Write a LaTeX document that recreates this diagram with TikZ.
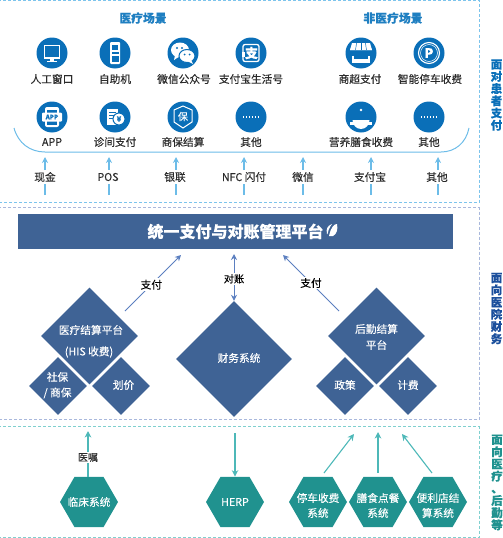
\documentclass[tikz,border=0pt]{standalone}
\usepackage{fontspec}
\setmainfont{Noto Sans CJK SC}[FakeBold=0.12]
\usetikzlibrary{shapes.geometric,arrows.meta}
\definecolor{iconblue}{HTML}{0A6FB8}
\definecolor{headblue}{HTML}{1F7FC1}
\definecolor{lightarrow}{HTML}{6CBCE8}
\definecolor{framea}{HTML}{7CC4EC}
\definecolor{frameb}{HTML}{A9B8DC}
\definecolor{framec}{HTML}{7FD0CF}
\definecolor{slate}{HTML}{3F6395}
\definecolor{teal2}{HTML}{20928F}
\definecolor{tealarrow}{HTML}{4DB8B8}
\definecolor{bluearrow}{HTML}{5B7FC0}
\definecolor{sideb}{HTML}{1B4F9C}
\definecolor{inktext}{HTML}{2B2B2B}
\newcommand\sidefont{\fontsize{11.5}{12.2}\bfseries\selectfont\setlength\lineskiplimit{-20pt}}
\tikzset{
  icon/.style={circle,fill=iconblue,minimum size=31pt,inner sep=0pt},
  lab/.style={font=\fontsize{10.7}{12}\selectfont,text=inktext,inner sep=0pt},
  head/.style={font=\fontsize{11.8}{13}\bfseries\selectfont,text=headblue,inner sep=0pt},
  frame/.style={densely dashed,line width=0.6pt},
  side/.style={font=\sidefont,align=center,inner sep=0pt},
  dia/.style={diamond,fill=slate,inner sep=0pt,aspect=1},
  ontext/.style={font=\fontsize{10.7}{12}\selectfont,text=white,inner sep=0pt,align=center},
  hexa/.style={regular polygon,regular polygon sides=6,fill=teal2,minimum size=58pt,inner sep=0pt},
  uparrow/.style={draw=lightarrow,line width=1.1pt,-{Stealth[length=6pt,width=6pt,inset=2pt]}},
  upline/.style={draw=lightarrow,line width=1.1pt},
  barrow/.style={draw=bluearrow,line width=1pt,-{Stealth[length=6pt,width=6pt,inset=2pt]}},
  tarrow/.style={draw=tealarrow,line width=1.1pt,-{Stealth[length=6.5pt,width=6.5pt,inset=2pt]}},
  wl/.style={draw=white,line width=0.9pt},
  bl/.style={draw=iconblue,line width=0.7pt},
}
\begin{document}
\begin{tikzpicture}[x=1pt,y=-1pt]
\useasboundingbox (0,0) rectangle (503,538);
% frames
\draw[frame,draw=framea] (-2,0.5) -- (479,0.5) -- (479,202) -- (-2,202);
\draw[frame,draw=frameb] (-2,207.5) -- (479,207.5) -- (479,419.5) -- (-2,419.5);
\draw[frame,draw=framec] (-2,426.5) -- (479,426.5) -- (479,537) -- (-2,537);
% headings
\node[head] (h1) at (143,18) {医疗场景};
\node[head] (h2) at (393,18) {非医疗场景};
% icons
\node[icon] (i1) at (52,53) {};
\node[icon] (i2) at (115,53) {};
\node[icon] (i3) at (183,53) {};
\node[icon] (i4) at (251,53) {};
\node[icon] (i5) at (361,53) {};
\node[icon] (i6) at (429,53) {};
\node[icon] (i7) at (52,117) {};
\node[icon] (i8) at (115,117) {};
\node[icon] (i9) at (183,117) {};
\node[icon] (i10) at (251,117) {};
\node[icon] (i11) at (361,117) {};
\node[icon] (i12) at (429,117) {};
% monitor
\begin{scope}[shift={(52,53)}]
\draw[wl,line width=1.2pt] (-7.5,-7.5) rectangle (7.5,5);
\fill[white] (-2,5) rectangle (2,8); \fill[white] (-5,8) rectangle (5,9);
\end{scope}
% kiosk
\begin{scope}[shift={(115,53)}]
\fill[white,rounded corners=1pt] (-5,-11) rectangle (5,11);
\fill[iconblue] (-3,-8) rectangle (3,-3);
\fill[iconblue] (-3.5,-1) rectangle (3.5,0.5);
\fill[iconblue] (-3.5,3) rectangle (3.5,9);
\end{scope}
% wechat
\begin{scope}[shift={(183,53)}]
\fill[white] (-3,-3) ellipse (9 and 7.5);
\fill[white] (-8,2) -- (-9,7) -- (-3,3) -- cycle;
\draw[bl,fill=white,line width=1pt] (4,3) ellipse (8 and 6.5);
\fill[white] (8,7) -- (10,11) -- (4,8) -- cycle;
\fill[iconblue] (-6,-5) circle (1.1) (-1,-5) circle (1.1) (1.5,1.5) circle (1) (6.5,1.5) circle (1);
\end{scope}
% alipay
\begin{scope}[shift={(251,53)}]
\draw[wl,line width=1.3pt,rounded corners=2pt] (-8,-8.5) -- (8,-8.5) -- (8,8.5) -- (-8,8.5) -- cycle;
\fill[white] (-9,-1) rectangle (-6,4);
\node[font=\fontsize{13}{13}\bfseries\selectfont,text=white,inner sep=0pt] (zhi) at (0.5,0) {支};
\end{scope}
% store
\begin{scope}[shift={(361,53)}]
\fill[white] (-9,-10) -- (9,-10) -- (11,-3) -- (-11,-3) -- cycle;
\foreach \a in {-11,-3.7,3.6}{\fill[white] (\a,-3) arc[start angle=180,end angle=360,radius=3.66];}
\foreach \a in {-5.5,0,5.5}{\draw[bl,line width=0.5pt] (\a*0.8,-10) -- (\a,-3);}
\draw[wl,line width=1.4pt] (-8,2.5) -- (-8,9) -- (8,9) -- (8,2.5);
\fill[white] (-8,6) rectangle (8,9);
\end{scope}
% parking
\begin{scope}[shift={(429,53)}]
\draw[wl,line width=1.1pt] (0,0) circle (10.5);
\draw[wl,line width=0.5pt] (0,0) circle (8.5);
\node[font=\fontsize{13}{13}\bfseries\selectfont,text=white,inner sep=0pt] (pk) at (0,0) {P};
\end{scope}
% APP
\begin{scope}[shift={(52,117)}]
\fill[white,rounded corners=2pt] (-7,-10) rectangle (7,10);
\fill[iconblue] (-5,-7.5) rectangle (5,7.5);
\fill[white,rounded corners=1pt] (-10,-4.5) rectangle (10,4.5);
\node[font=\fontsize{6.2}{7}\bfseries\selectfont,text=iconblue,inner sep=0pt] (ap) at (0,0) {APP};
\end{scope}
% receipt
\begin{scope}[shift={(115,117)}]
\fill[white] (-8,-8) rectangle (3,8);
\draw[bl] (-6,-5) -- (1,-5) (-6,-2) -- (-1,-2) (-6,1) -- (-2,1);
\draw[bl,fill=white,line width=1pt] (4,2) circle (6);
\node[font=\fontsize{7}{7}\bfseries\selectfont,text=iconblue,inner sep=0pt] (yen) at (4,2) {¥};
\end{scope}
% shield
\begin{scope}[shift={(183,117)}]
\draw[wl,line width=1pt] (0,-11) -- (9,-7) -- (9,5) -- (0,11) -- (-9,5) -- (-9,-7) -- cycle;
\node[font=\fontsize{10}{10}\selectfont,text=white,inner sep=0pt] (bao) at (0,-0.5) {保};
\end{scope}
% dots
\foreach \cx in {251,429}{
\begin{scope}[shift={(\cx,117)}]
\foreach \d in {-7.5,-4.5,-1.5,1.5,4.5,7.5}{\fill[white] (\d-0.9,-0.8) rectangle (\d+0.9,0.8);}
\end{scope}}
% cloche
\begin{scope}[shift={(361,117)}]
\fill[white] (-8.5,3) arc[start angle=180,end angle=0,x radius=8.5,y radius=9] -- cycle;
\fill[white] (0,-7) circle (1.4);
\draw[bl] (-4.5,0) arc[start angle=180,end angle=260,radius=4.5];
\fill[white] (-11,5) rectangle (11,7.5);
\end{scope}
% icon labels
\node[lab] (l1) at (52,79) {人工窗口};
\node[lab] (l2) at (115,79) {自助机};
\node[lab] (l3) at (184,79) {微信公众号};
\node[lab] (l4) at (251,79) {支付宝生活号};
\node[lab] (l5) at (360,79) {商超支付};
\node[lab] (l6) at (430,79) {智能停车收费};
\node[lab] (l7) at (52,142) {APP};
\node[lab] (l8) at (115,142) {诊间支付};
\node[lab] (l9) at (183,142) {商保结算};
\node[lab] (l10) at (251,142) {其他};
\node[lab] (l11) at (361,142) {营养膳食收费};
\node[lab] (l12) at (429,142) {其他};
% curve
\draw[draw=lightarrow,line width=1pt] (14,128) .. controls (18,143) and (30,152) .. (45,152) -- (441,152) .. controls (455,152) and (466,143) .. (469,128);
% payment channels
\foreach \n/\x/\y/\t in {a/45/45/现金,b/109/108/POS,c/176/175/银联,d/244/244/NFC 闪付,e/303/303/微信,f/371/370/支付宝,g/438/437/其他}{
  \node[lab] (p\n) at (\y,177) {\t};
  \coordinate (pt\n) at (\x,157);
  \coordinate (pm\n) at (\x,170);
  \coordinate (pb\n) at (\x,184);
  \coordinate (pe\n) at (\x,195);
  \draw[uparrow] (pm\n) -- (pt\n);
  \draw[upline] (pe\n) -- (pb\n);
}
% bar
\node[fill=slate,minimum width=435pt,minimum height=35pt,inner sep=0pt,anchor=north west] (bar) at (18,214) {};
\node[font=\fontsize{16}{18}\bfseries\selectfont,text=white,inner sep=0pt] (bart) at (235.5,231.5) {统一支付与对账管理平台};
\fill[white] (329,236) .. controls (331,227) and (334,224) .. (337,224) .. controls (338,229) and (337,234) .. (333,236) -- cycle;
\fill[white] (327,234) .. controls (326,229) and (327,226) .. (332,224) .. controls (329,228) and (328,231) .. (327.5,234) -- cycle;
% diamonds
\node[dia,minimum size=97pt] (d1) at (89.5,336) {};
\node[dia,minimum size=58pt] (d1a) at (58,386) {};
\node[dia,minimum size=58pt] (d1b) at (121,386) {};
\node[dia,minimum size=116pt] (d2) at (234,359) {};
\node[dia,minimum size=97pt] (d3) at (376.5,336) {};
\node[dia,minimum size=58pt] (d3a) at (345,386) {};
\node[dia,minimum size=58pt] (d3b) at (408,386) {};
\node[ontext] (t1) at (91,330) {医疗结算平台};
\node[ontext] (t2) at (89,352) {(HIS 收费)};
\node[ontext] (t3) at (57.5,377) {社保};
\node[ontext] (t4) at (57.5,393) {/ 商保};
\node[ontext] (t5) at (123.5,385) {划价};
\node[ontext] (t6) at (239,358) {财务系统};
\node[ontext] (t7) at (376.5,329) {后勤结算};
\node[ontext] (t8) at (376.5,345) {平台};
\node[ontext] (t9) at (345,385) {政策};
\node[ontext] (t10) at (408,385) {计费};
% middle arrows
\coordinate (c1a) at (125,311);
\coordinate (c1b) at (181,255);
\coordinate (c2a) at (339,311);
\coordinate (c2b) at (283,255);
\coordinate (c3) at (234,254);
\draw[barrow] (c1a) -- node[pos=0.47,fill=white,inner sep=1.5pt,font=\fontsize{10.7}{12}\selectfont,text=black] (pay1) {支付} (c1b);
\draw[barrow] (c2a) -- node[pos=0.5,fill=white,inner sep=1.5pt,font=\fontsize{10.7}{12}\selectfont,text=black] (pay2) {支付} (c2b);
\draw[barrow,{Stealth[length=6pt,width=6pt,inset=2pt]}-{Stealth[length=6pt,width=6pt,inset=2pt]}] (c3) -- node[pos=0.53,fill=white,inner sep=1.5pt,font=\fontsize{10.2}{12}\selectfont,text=black] (rec) {对账} (d2.north);
% hexagons
\node[hexa] (x1) at (89,502) {};
\node[hexa] (x2) at (235,502) {};
\node[hexa] (x3) at (318,502) {};
\node[hexa] (x4) at (378,502) {};
\node[hexa] (x5) at (438,502) {};
\node[ontext] (xt1) at (89,502) {临床系统};
\node[ontext] (xt2) at (235,502) {HERP};
\node[ontext] (xt3a) at (318,498) {停车收费};
\node[ontext] (xt3b) at (318,513) {系统};
\node[ontext] (xt4a) at (378,498) {膳食点餐};
\node[ontext] (xt4b) at (378,513) {系统};
\node[ontext] (xt5a) at (438,498) {便利店结};
\node[ontext] (xt5b) at (438,513) {算系统};
% bottom arrows
\coordinate (u1) at (88,431);
\coordinate (u2) at (235,433);
\coordinate (u3a) at (324,473);
\coordinate (u3b) at (354,434);
\coordinate (u4a) at (378,473);
\coordinate (u4b) at (378,432);
\coordinate (u5a) at (432,473);
\coordinate (u5b) at (402,434);
\draw[tarrow] ([xshift=-1pt]x1.north) -- node[pos=0.42,fill=white,inner sep=1.5pt,font=\fontsize{10}{12}\selectfont,text=inktext] (yz) {医嘱} (u1);
\draw[tarrow] (u2) -- (x2.north);
\draw[tarrow] (u3a) -- (u3b);
\draw[tarrow] (u4a) -- (u4b);
\draw[tarrow] (u5a) -- (u5b);
% side labels
\node[side,text=iconblue] (s1) at (496.5,95) {面\\对\\患\\者\\支\\付};
\node[side,text=sideb] (s2) at (496.5,308.5) {面\\向\\医\\院\\财\\务};
\node[side,text=teal2] (s3) at (497,482.5) {面\\向\\医\\疗\\、\\后\\勤\\等};
\end{tikzpicture}
\end{document}
